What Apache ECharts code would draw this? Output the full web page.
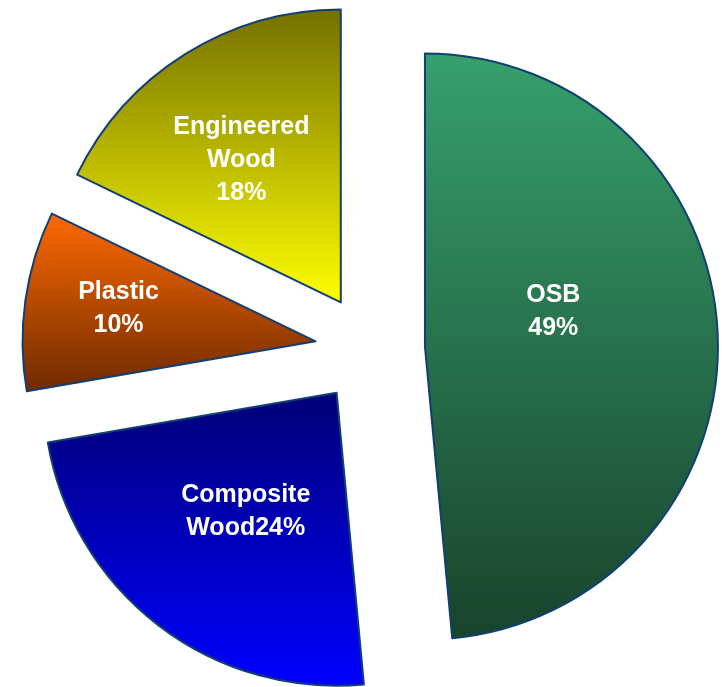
<!DOCTYPE html>
<html>
<head>
<meta charset="utf-8">
<script src="https://cdn.jsdelivr.net/npm/echarts@6/dist/echarts.min.js"></script>
<style>
  html, body { margin: 0; padding: 0; background: #ffffff; }
  #chart { width: 722px; height: 687px; }
</style>
</head>
<body>
<div id="chart"></div>
<script>
// Market share by material
const categories = ['OSB', 'Composite Wood', 'Plastic', 'Engineered Wood'];
const shares = [49, 24, 10, 18];
const labelTexts = ['OSB\n49%', 'Composite\nWood24%', 'Plastic\n10%', 'Engineered\nWood\n18%'];

// Vertical gradient per slice: [top colour, bottom colour]
const sliceColours = [
  ['#36a06c', '#18432c'],
  ['#000078', '#0000ff'],
  ['#ff6a00', '#6e2a00'],
  ['#747000', '#ffff00']
];
// Nudges of the inside labels
const labelNudge = [
  [-21, -28],
  [0, 0],
  [-49, -12],
  [-20, -16]
];

const chart = echarts.init(document.getElementById('chart'));

const data = categories.map((name, i) => ({
  name: name,
  value: shares[i],
  selected: true,
  itemStyle: {
    color: new echarts.graphic.LinearGradient(0, 0, 0, 1, [
      { offset: 0, color: sliceColours[i][0] },
      { offset: 1, color: sliceColours[i][1] }
    ])
  },
  label: { formatter: labelTexts[i] }
}));

chart.setOption({
  animation: false,
  series: [{
    type: 'pie',
    center: [370, 349],
    radius: [0, 293],
    startAngle: 90,
    clockwise: true,
    selectedMode: 'multiple',
    selectedOffset: 55,
    avoidLabelOverlap: false,
    data: data,
    itemStyle: {
      borderColor: '#123f73',
      borderWidth: 2
    },
    label: {
      show: true,
      position: 'inside',
      color: '#ffffff',
      fontFamily: 'Liberation Sans, Arial, sans-serif',
      fontWeight: 'bold',
      fontSize: 25,
      lineHeight: 33,
      align: 'center'
    },
    labelLine: { show: false },
    labelLayout: function (params) {
      const n = labelNudge[params.dataIndex];
      return { dx: n[0], dy: n[1] };
    },
    emphasis: { disabled: true }
  }]
});
</script>
</body>
</html>
